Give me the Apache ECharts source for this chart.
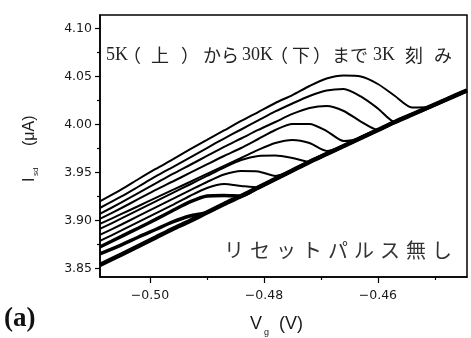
<!DOCTYPE html>
<html><head><meta charset="utf-8">
<script src="https://cdn.jsdelivr.net/npm/echarts@6/dist/echarts.min.js"></script>
<style>html,body{margin:0;padding:0;background:#fff}#c{width:471px;height:338px}</style>
</head><body><div id="c"></div>
<script>
// gate voltage V_g (V)
const vg = [-0.5088, -0.505, -0.502, -0.499, -0.496, -0.493, -0.490, -0.487, -0.484, -0.481, -0.478, -0.475, -0.472, -0.469, -0.466, -0.463, -0.460, -0.457, -0.454, -0.451, -0.448, -0.4444];
// I_sd (uA) for each temperature, 5K (top) .. bottom
const i05K = [3.9196, 3.9321, 3.9430, 3.9535, 3.9634, 3.9738, 3.9837, 3.9936, 4.0035, 4.0128, 4.0222, 4.0305, 4.0399, 4.0477, 4.0508, 4.0498, 4.0420, 4.0295, 4.0175, 4.0180, 4.0258, 4.0352];
const i08K = [3.9128, 3.9248, 3.9352, 3.9457, 3.9555, 3.9654, 3.9753, 3.9852, 3.9946, 4.0040, 4.0134, 4.0217, 4.0295, 4.0352, 4.0368, 4.0290, 4.0165, 4.0024, 4.0102, 4.0180, 4.0258, 4.0352];
const i11K = [3.9066, 3.9186, 3.9285, 3.9384, 3.9483, 3.9576, 3.9670, 3.9764, 3.9852, 3.9941, 4.0024, 4.0108, 4.0170, 4.0191, 4.0139, 4.0029, 3.9941, 4.0024, 4.0102, 4.0180, 4.0258, 4.0352];
const i14K = [3.9014, 3.9128, 3.9222, 3.9316, 3.9404, 3.9493, 3.9582, 3.9670, 3.9753, 3.9847, 3.9941, 4.0003, 4.0003, 3.9930, 3.9826, 3.9858, 3.9941, 4.0024, 4.0102, 4.0180, 4.0258, 4.0352];
const i17K = [3.8962, 3.9066, 3.9149, 3.9233, 3.9316, 3.9399, 3.9483, 3.9566, 3.9649, 3.9733, 3.9805, 3.9837, 3.9805, 3.9722, 3.9774, 3.9858, 3.9941, 4.0024, 4.0102, 4.0180, 4.0258, 4.0352];
const i20K = [3.8910, 3.9019, 3.9108, 3.9196, 3.9285, 3.9373, 3.9462, 3.9550, 3.9628, 3.9670, 3.9675, 3.9649, 3.9608, 3.9691, 3.9774, 3.9858, 3.9941, 4.0024, 4.0102, 4.0180, 4.0258, 4.0352];
const i23K = [3.8847, 3.8956, 3.9045, 3.9134, 3.9222, 3.9311, 3.9399, 3.9477, 3.9514, 3.9509, 3.9462, 3.9519, 3.9608, 3.9691, 3.9774, 3.9858, 3.9941, 4.0024, 4.0102, 4.0180, 4.0258, 4.0352];
const i26K = [3.8785, 3.8894, 3.8983, 3.9071, 3.9160, 3.9253, 3.9337, 3.9378, 3.9358, 3.9342, 3.9430, 3.9519, 3.9608, 3.9691, 3.9774, 3.9858, 3.9941, 4.0024, 4.0102, 4.0180, 4.0258, 4.0352];
const i29K = [3.8722, 3.8832, 3.8920, 3.9009, 3.9102, 3.9191, 3.9253, 3.9259, 3.9253, 3.9342, 3.9430, 3.9519, 3.9608, 3.9691, 3.9774, 3.9858, 3.9941, 4.0024, 4.0102, 4.0180, 4.0258, 4.0352];
const i30K = [3.8649, 3.8743, 3.8826, 3.8904, 3.8983, 3.9045, 3.9082, 3.9170, 3.9253, 3.9342, 3.9430, 3.9519, 3.9608, 3.9691, 3.9774, 3.9858, 3.9941, 4.0024, 4.0102, 4.0180, 4.0258, 4.0352];
const iBase = [3.8535, 3.8644, 3.8733, 3.8821, 3.8910, 3.8993, 3.9082, 3.9170, 3.9253, 3.9342, 3.9430, 3.9519, 3.9608, 3.9691, 3.9774, 3.9858, 3.9941, 4.0024, 4.0102, 4.0180, 4.0258, 4.0352];
const curves = [i05K, i08K, i11K, i14K, i17K, i20K, i23K, i26K, i29K, i30K];

const yMajor = [3.85, 3.90, 3.95, 4.00, 4.05, 4.10];
const yMinor = [3.875, 3.925, 3.975, 4.025, 4.075];
const xMajor = [-0.50, -0.48, -0.46];
const xMinor = [-0.49, -0.47, -0.45];
const xRange = [-0.50877, -0.44436];
const yRange = [3.8409, 4.1139];

const topNote = [['5K', 106, 'Liberation Serif'], ['（', 123, 'Noto Sans CJK JP'], ['上', 151, 'Noto Sans CJK JP'], ['）', 181, 'Noto Sans CJK JP'],
  ['から', 203, 'Noto Sans CJK JP'], ['30K', 242, 'Liberation Serif'], ['（', 270, 'Noto Sans CJK JP'], ['下', 292, 'Noto Sans CJK JP'],
  ['）', 313, 'Noto Sans CJK JP'], ['まで', 332, 'Noto Sans CJK JP'], ['3K', 373, 'Liberation Serif'], ['刻', 405, 'Noto Sans CJK JP'], ['み', 434, 'Noto Sans CJK JP']];
const bottomNote = 'リセットパルス無し';

const chart = echarts.init(document.getElementById('c'), null, {renderer: 'canvas'});
const fmtX = v => (v < 0 ? '\u2212' : '') + Math.abs(v).toFixed(2);
const lblFont = {fontFamily: 'DejaVu Sans', fontSize: 12.5, color: '#1a1a1a'};

const series = curves.map((c, k) => ({
  type: 'line', name: 'c' + k, data: vg.map((v, i) => [v, c[i]]),
  showSymbol: false, smooth: 0.25, silent: true,
  lineStyle: {color: '#000', width: k >= 8 ? 3.5 : 2}
}));
series.push({type: 'line', name: 'base', data: vg.map((v, i) => [v, iBase[i]]),
  showSymbol: false, smooth: 0.25, silent: true, lineStyle: {color: '#000', width: 4.5}});

const graphic = [];
topNote.forEach(([t, x, f]) => graphic.push({type: 'text', x: x, y: 55,
  style: {text: t, fontFamily: f, fontSize: 18, fill: '#222', align: 'left', verticalAlign: 'middle'}}));
Array.from(bottomNote).forEach((ch, i) => graphic.push({type: 'text', x: 224 + i * 26, y: 250,
  style: {text: ch, fontFamily: 'Noto Sans CJK JP', fontSize: 20, fill: '#333', align: 'left', verticalAlign: 'middle'}}));
graphic.push({type: 'group', x: 30, y: 182, rotation: Math.PI / 2, children: [
  {type: 'text', x: 0, y: 0, style: {text: 'I', fontFamily: 'Liberation Sans', fontSize: 16, fill: '#1a1a1a', align: 'left', verticalAlign: 'middle'}},
  {type: 'text', x: 6, y: 6, style: {text: 'sd', fontFamily: 'Liberation Sans', fontSize: 8, fill: '#1a1a1a', align: 'left', verticalAlign: 'middle'}},
  {type: 'text', x: 36, y: 0, style: {text: '(μA)', fontFamily: 'Liberation Sans', fontSize: 16, fill: '#1a1a1a', align: 'left', verticalAlign: 'middle'}}
]});
graphic.push({type: 'text', x: 250, y: 324, style: {text: 'V', fontFamily: 'Liberation Sans', fontSize: 18, fill: '#1a1a1a', align: 'left', verticalAlign: 'middle'}});
graphic.push({type: 'text', x: 264, y: 333, style: {text: 'g', fontFamily: 'Liberation Sans', fontSize: 9, fill: '#1a1a1a', align: 'left', verticalAlign: 'middle'}});
graphic.push({type: 'text', x: 279, y: 324, style: {text: '(V)', fontFamily: 'Liberation Sans', fontSize: 18, fill: '#1a1a1a', align: 'left', verticalAlign: 'middle'}});
graphic.push({type: 'text', x: 4, y: 319, style: {text: '(a)', fontFamily: 'Liberation Serif', fontWeight: 'bold', fontSize: 27, fill: '#111', align: 'left', verticalAlign: 'middle'}});

chart.setOption({
  animation: false,
  backgroundColor: '#fff',
  grid: {left: 100, right: 4, top: 15, bottom: 61, show: true, borderColor: '#000', borderWidth: 1.5, backgroundColor: 'transparent'},
  xAxis: [
    {type: 'value', min: xRange[0], max: xRange[1], position: 'bottom', splitLine: {show: false},
     axisLine: {show: true, lineStyle: {color: '#000', width: 1.5}},
     axisTick: {show: true, customValues: xMajor, length: 6, lineStyle: {color: '#000', width: 1.2}},
     axisLabel: Object.assign({customValues: xMajor, formatter: fmtX, margin: 12}, lblFont)},
    {type: 'value', min: xRange[0], max: xRange[1], position: 'bottom', offset: 0, splitLine: {show: false},
     axisLine: {show: false},
     axisTick: {show: true, customValues: xMinor, length: 3, lineStyle: {color: '#000', width: 1.2}},
     axisLabel: {show: false}}
  ],
  yAxis: [
    {type: 'value', min: yRange[0], max: yRange[1], position: 'left', splitLine: {show: false},
     axisLine: {show: true, lineStyle: {color: '#000', width: 1.5}},
     axisTick: {show: true, customValues: yMajor, length: 5, lineStyle: {color: '#000', width: 1.2}},
     axisLabel: Object.assign({customValues: yMajor, formatter: v => v.toFixed(2), margin: 8}, lblFont)},
    {type: 'value', min: yRange[0], max: yRange[1], position: 'left', offset: 0, splitLine: {show: false},
     axisLine: {show: false},
     axisTick: {show: true, customValues: yMinor, length: 3, lineStyle: {color: '#000', width: 1.2}},
     axisLabel: {show: false}}
  ],
  series: series,
  graphic: graphic
});
</script></body></html>
